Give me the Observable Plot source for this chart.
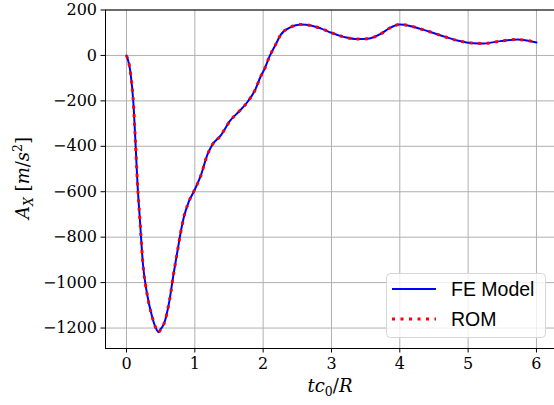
<!DOCTYPE html>
<html><head><meta charset="utf-8">
<script src="https://cdn.jsdelivr.net/npm/d3@7"></script>
<script src="https://cdn.jsdelivr.net/npm/@observablehq/plot@0.6"></script>
<style>body{margin:0;background:#fff} #chart{width:554px;height:405px} #chart svg text{font-family:"DejaVu Serif"}</style>
</head><body><div id="chart"></div>
<script>
const time = [0, 0.06, 0.1, 0.13, 0.16, 0.2, 0.24, 0.3, 0.375, 0.42, 0.47, 0.5, 0.55, 0.63, 0.69, 0.74, 0.79, 0.84, 0.91, 1.0, 1.08, 1.19, 1.25, 1.38, 1.52, 1.64, 1.77, 1.89, 1.96, 2.01, 2.1, 2.2, 2.25, 2.4, 2.55, 2.7, 2.85, 3.0, 3.2, 3.38, 3.52, 3.72, 3.85, 4.0, 4.15, 4.3, 4.45, 4.6, 4.84, 5.08, 5.23, 5.47, 5.72, 5.86, 6.0];
const feModel = [0, -80, -205, -374, -560, -740, -916, -1048, -1150, -1193, -1218, -1205, -1180, -1077, -960, -872, -784, -711, -645, -590, -535, -432, -396, -352, -286, -249, -205, -147, -95, -66, 0, 58, 88, 124, 136, 132, 118, 100, 80, 72, 73, 95, 120, 136, 130, 117, 103, 88, 66, 54, 53, 63, 70, 66, 57];
const rom = [0, -80, -205, -374, -560, -740, -916, -1048, -1150, -1193, -1218, -1205, -1180, -1077, -960, -872, -784, -711, -645, -590, -535, -432, -396, -352, -286, -249, -205, -147, -95, -66, 0, 58, 88, 124, 136, 132, 118, 100, 80, 72, 73, 95, 120, 136, 130, 117, 103, 88, 66, 54, 53, 63, 70, 66, 57];
const xTicks = [0, 1, 2, 3, 4, 5, 6];
const yTicks = [200, 0, -200, -400, -600, -800, -1000, -1200];
const seriesNames = ["FE Model", "ROM"];

const feData = time.map((t, i) => ({t, v: feModel[i]}));
const romData = time.map((t, i) => ({t, v: rom[i]}));
const xDom = [-0.3073, 6.264];
const yDom = [-1290, 200];
const fmt = d => d < 0 ? "\u2212" + Math.abs(d) : String(d);
const serif = "DejaVu Serif";

const plot = Plot.plot({
  width: 554, height: 405,
  marginLeft: 105, marginRight: 0, marginTop: 9.5, marginBottom: 57,
  style: {fontFamily: serif, fontSize: "16px", color: "#000", background: "#fff", overflow: "visible"},
  x: {domain: xDom},
  y: {domain: yDom},
  marks: [
    Plot.gridX(xTicks, {stroke: "#b0b0b0", strokeOpacity: 1, strokeWidth: 1}),
    Plot.gridY(yTicks, {stroke: "#b0b0b0", strokeOpacity: 1, strokeWidth: 1}),
    Plot.axisX(xTicks, {tickSize: 4.5, tickPadding: 5, tickFormat: fmt, label: null, fontSize: 16}),
    Plot.axisY(yTicks, {tickSize: 4.5, tickPadding: 4, tickFormat: fmt, label: null, fontSize: 16}),
    Plot.line(feData, {x: "t", y: "v", stroke: "#0000ff", strokeWidth: 2, curve: "monotone-x"}),
    Plot.line(romData, {x: "t", y: "v", stroke: "#ff0000", strokeWidth: 3, strokeDasharray: "3,5.5", strokeLinecap: "butt", curve: "monotone-x"}),
    Plot.ruleX([xDom[0]], {stroke: "#000", strokeWidth: 1}),
    Plot.ruleY(yDom, {stroke: "#000", strokeWidth: 1})
  ]
});
document.getElementById("chart").appendChild(plot);

const svg = d3.select(plot);
svg.selectAll("g").filter(function() { return this.getAttribute("font-family"); }).attr("font-family", serif);
svg.selectAll("text").attr("font-family", serif).style("font-family", serif);
// x label
const xl = svg.append("text").attr("x", 330).attr("y", 392).attr("text-anchor", "middle")
  .style("font-family", serif).style("font-size", "18px").attr("fill", "#000");
xl.append("tspan").style("font-style", "italic").text("tc");
xl.append("tspan").attr("dy", 4).style("font-size", "12.5px").text("0");
xl.append("tspan").attr("dy", -4).text("/");
xl.append("tspan").style("font-style", "italic").text("R");
// y label
const yl = svg.append("text").attr("transform", "translate(29,178) rotate(-90)").attr("text-anchor", "middle")
  .style("font-family", serif).style("font-size", "18px").attr("fill", "#000");
yl.append("tspan").style("font-style", "italic").text("A");
yl.append("tspan").attr("dy", 4).style("font-style", "italic").style("font-size", "12.5px").text("X");
yl.append("tspan").attr("dy", -4).text(" [");
yl.append("tspan").style("font-style", "italic").text("m");
yl.append("tspan").text("/");
yl.append("tspan").style("font-style", "italic").text("s");
yl.append("tspan").attr("dy", -7).style("font-size", "12.5px").text("2");
yl.append("tspan").attr("dy", 7).text("]");

// legend
const lg = svg.append("g").attr("text-anchor", "start");
lg.append("rect").attr("x", 386.5).attr("y", 273.5).attr("width", 159).attr("height", 64).attr("rx", 4)
  .attr("fill", "#fff").attr("fill-opacity", 0.8).attr("stroke", "#d6d6d6");
const styles = [{stroke: "#0000ff", w: 2, dash: null}, {stroke: "#ff0000", w: 3, dash: "3,5.5"}];
seriesNames.forEach((name, i) => {
  const y = 289 + i * 30;
  const ln = lg.append("line").attr("x1", 392).attr("x2", 436).attr("y1", y).attr("y2", y)
    .attr("stroke", styles[i].stroke).attr("stroke-width", styles[i].w).attr("stroke-linecap", "butt");
  if (styles[i].dash) ln.attr("stroke-dasharray", styles[i].dash);
  lg.append("text").attr("x", 451).attr("y", y + 7).attr("text-anchor", "start")
    .style("font-family", "Liberation Sans").style("font-size", "19.5px").attr("fill", "#000").text(name);
});
</script></body></html>
